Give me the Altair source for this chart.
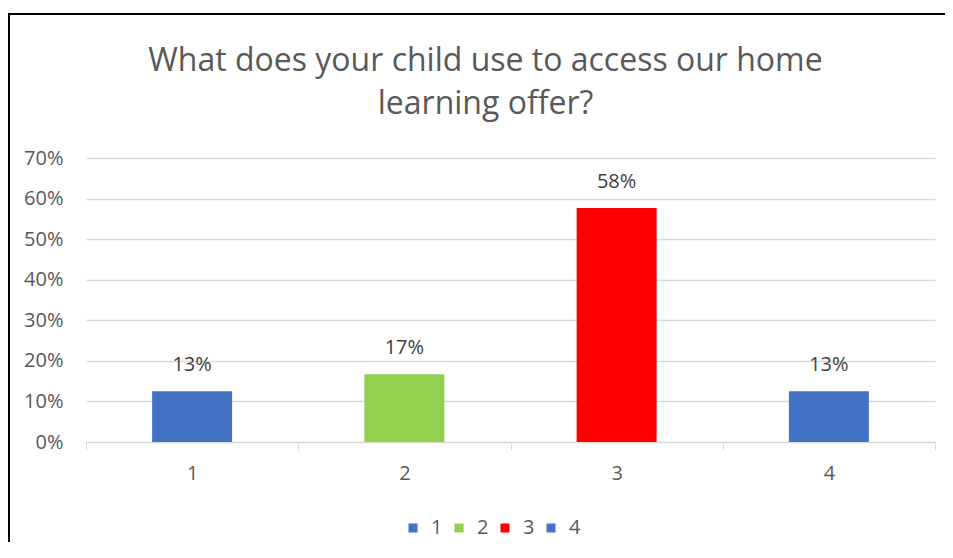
import altair as alt
import pandas as pd

categories = ["1", "2", "3", "4"]
values = [0.125, 0.167, 0.577, 0.125]
value_labels = ["13%", "17%", "58%", "13%"]
colors = ["#4472C4", "#92D050", "#FF0000", "#4472C4"]
y_ticks = [0, 0.1, 0.2, 0.3, 0.4, 0.5, 0.6, 0.7]
title_text = "What does your child use to access our home\nlearning offer?"

df = pd.DataFrame({"cat": categories, "value": values, "label": value_labels})
one = pd.DataFrame({"a": [0]})
title_df = pd.DataFrame({"t": [title_text]})

W = 849
H = 284
FONT = "Open Sans"
GREY = "#595959"

x = alt.X(
    "cat:N",
    sort=categories,
    scale=alt.Scale(paddingInner=0, paddingOuter=0),
    axis=alt.Axis(
        title=None, labelAngle=0, tickBand="extent", domainColor="#d9d9d9",
        tickColor="#d9d9d9", tickSize=8, labelFontSize=20, labelColor=GREY,
        labelPadding=13, grid=False, labelFont=FONT,
    ),
)
y = alt.Y(
    "value:Q",
    scale=alt.Scale(domain=[0, 0.7], nice=False),
    axis=alt.Axis(
        title=None, format=".0%", values=y_ticks, domain=False, ticks=False,
        gridColor="#d9d9d9", gridWidth=1.3, labelFontSize=20, labelColor=GREY,
        labelPadding=23, labelFont=FONT,
    ),
)

bars = alt.Chart(df).mark_bar(size=80).encode(
    x=x,
    y=y,
    color=alt.Color(
        "cat:N",
        scale=alt.Scale(domain=categories, range=colors),
        legend=alt.Legend(
            title=None, orient="none", direction="horizontal", legendX=317,
            legendY=360, symbolType="square", symbolSize=81, symbolStrokeWidth=0,
            labelFontSize=20, labelColor=GREY, labelFont=FONT, labelOffset=8,
            columnPadding=6, padding=0,
        ),
    ),
)

text = alt.Chart(df).mark_text(
    dy=-20, baseline="alphabetic", fontSize=20, color="#404040", font=FONT
).encode(x=alt.X("cat:N", sort=categories), y="value:Q", text="label:N")

title = alt.Chart(title_df).mark_text(
    fontSize=32, color=GREY, font=FONT, align="center", baseline="alphabetic",
    lineBreak="\n", lineHeight=43,
).encode(x=alt.value(W / 2 - 25), y=alt.value(-87.5), text="t:N")

border_top = alt.Chart(one).mark_rule(color="black", strokeWidth=2).encode(
    x=alt.value(-78), x2=alt.value(W + 12), y=alt.value(-144)
)
border_left = alt.Chart(one).mark_rule(color="black", strokeWidth=2).encode(
    x=alt.value(-77), y=alt.value(-145), y2=alt.value(H + 120)
)

chart = (
    alt.layer(bars, text, title, border_top, border_left)
    .properties(
        width=W,
        height=H,
        autosize=alt.AutoSizeParams(type="none"),
        padding={"left": 78, "top": 150, "right": 10, "bottom": 100},
        background="white",
    )
    .configure_view(stroke=None)
)

chart.save("out.html", embed_options={"renderer": "svg", "actions": False})
